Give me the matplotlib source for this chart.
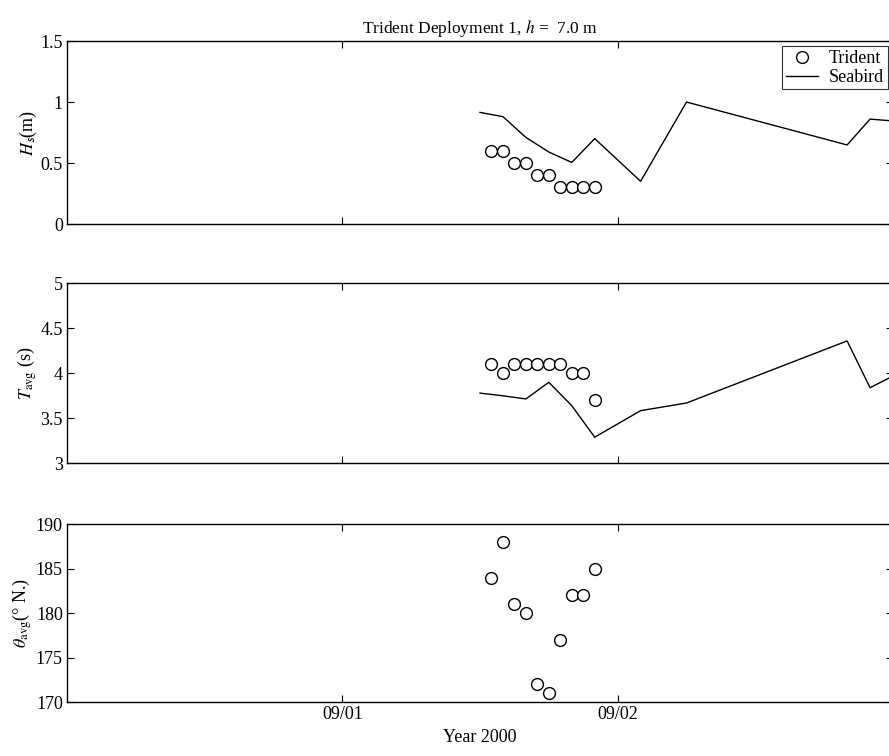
import matplotlib
matplotlib.use("Agg")
import matplotlib.pyplot as plt
import matplotlib.dates as mdates
import numpy as np
import pandas as pd

plt.rcParams['font.family'] = ['Liberation Serif', 'DejaVu Serif']
plt.rcParams['mathtext.fontset'] = 'stix'

# Trident hourly samples
trident_time = pd.date_range("2000-09-01 13:00", "2000-09-01 22:00", freq="h")
trident_hs = [0.6, 0.6, 0.5, 0.5, 0.4, 0.4, 0.3, 0.3, 0.3, 0.3]
trident_tavg = [4.1, 4.0, 4.1, 4.1, 4.1, 4.1, 4.1, 4.0, 4.0, 3.7]
trident_theta = [184, 188, 181, 180, 172, 171, 177, 182, 182, 185]

# Seabird samples
seabird_time = pd.to_datetime([
    "2000-09-01 12:00", "2000-09-01 14:00", "2000-09-01 16:00", "2000-09-01 18:00",
    "2000-09-01 20:00", "2000-09-01 22:00", "2000-09-02 02:00", "2000-09-02 06:00",
    "2000-09-02 20:00", "2000-09-02 22:00", "2000-09-03 00:00"])
seabird_hs = [0.915, 0.88, 0.71, 0.59, 0.505, 0.70, 0.35, 1.0, 0.648, 0.86, 0.845]
seabird_tavg = [3.78, 3.75, 3.715, 3.90, 3.64, 3.29, 3.585, 3.67, 4.36, 3.84, 3.97]

xlim = (pd.Timestamp("2000-08-31"), pd.Timestamp("2000-09-03"))
xticks = pd.to_datetime(["2000-09-01", "2000-09-02"])

fig = plt.figure(figsize=(8.89, 7.56), dpi=100)
left, width = 67/889, (893-67)/889
pos = [(0.7037, 0.242), (0.3872, 0.238), (0.0710, 0.2358)]
axes = [fig.add_axes([left, b, width, h]) for b, h in pos]

ylims = [(0, 1.5), (3, 5), (170, 190)]
yticks = [[0, 0.5, 1, 1.5], [3, 3.5, 4, 4.5, 5], [170, 175, 180, 185, 190]]
yticklabels = [["0", "0.5", "1", "1.5"], ["3", "3.5", "4", "4.5", "5"],
               ["170", "175", "180", "185", "190"]]
ylabels = [r"$H_{\mathsf{s}}$(m)", r"$T_{\mathrm{avg}}$ (s)",
           r"$\theta_{\mathrm{avg}}$(° N.)"]

mk = dict(marker='o', linestyle='none', markersize=8.5, markerfacecolor='white',
          markeredgecolor='black', markeredgewidth=1.0)

ax = axes[0]
ax.plot(trident_time, trident_hs, label='Trident', **mk)
ax.plot(seabird_time, seabird_hs, color='black', lw=1.0, label='Seabird')
leg = ax.legend(loc='upper right', fontsize=13, frameon=True, fancybox=False,
                edgecolor='black', borderaxespad=0.3, handlelength=1.8,
                handletextpad=0.6, borderpad=0.2, labelspacing=0.1)
leg.get_frame().set_linewidth(0.8)

ax = axes[1]
ax.plot(trident_time, trident_tavg, **mk)
ax.plot(seabird_time, seabird_tavg, color='black', lw=1.0)

ax = axes[2]
ax.plot(trident_time, trident_theta, **mk)

for i, ax in enumerate(axes):
    ax.set_xlim(*xlim)
    ax.set_ylim(*ylims[i])
    ax.set_yticks(yticks[i])
    ax.set_yticklabels(yticklabels[i])
    ax.set_xticks(xticks)
    ax.xaxis.set_major_formatter(mdates.DateFormatter('%m/%d'))
    ax.tick_params(direction='in', top=True, right=True, length=5, width=0.8,
                   labelsize=13, pad=3)
    for s in ax.spines.values():
        s.set_linewidth(1.0)
    ax.set_ylabel(ylabels[i], fontsize=13, labelpad=1)
    if i < 2:
        ax.tick_params(labelbottom=False)

axes[2].set_xlabel("Year 2000", fontsize=13, labelpad=4)
axes[0].set_title(r"Trident Deployment 1, $h$ =  7.0 m", fontsize=12.5, pad=6)

fig.savefig("out.png", dpi=100)
